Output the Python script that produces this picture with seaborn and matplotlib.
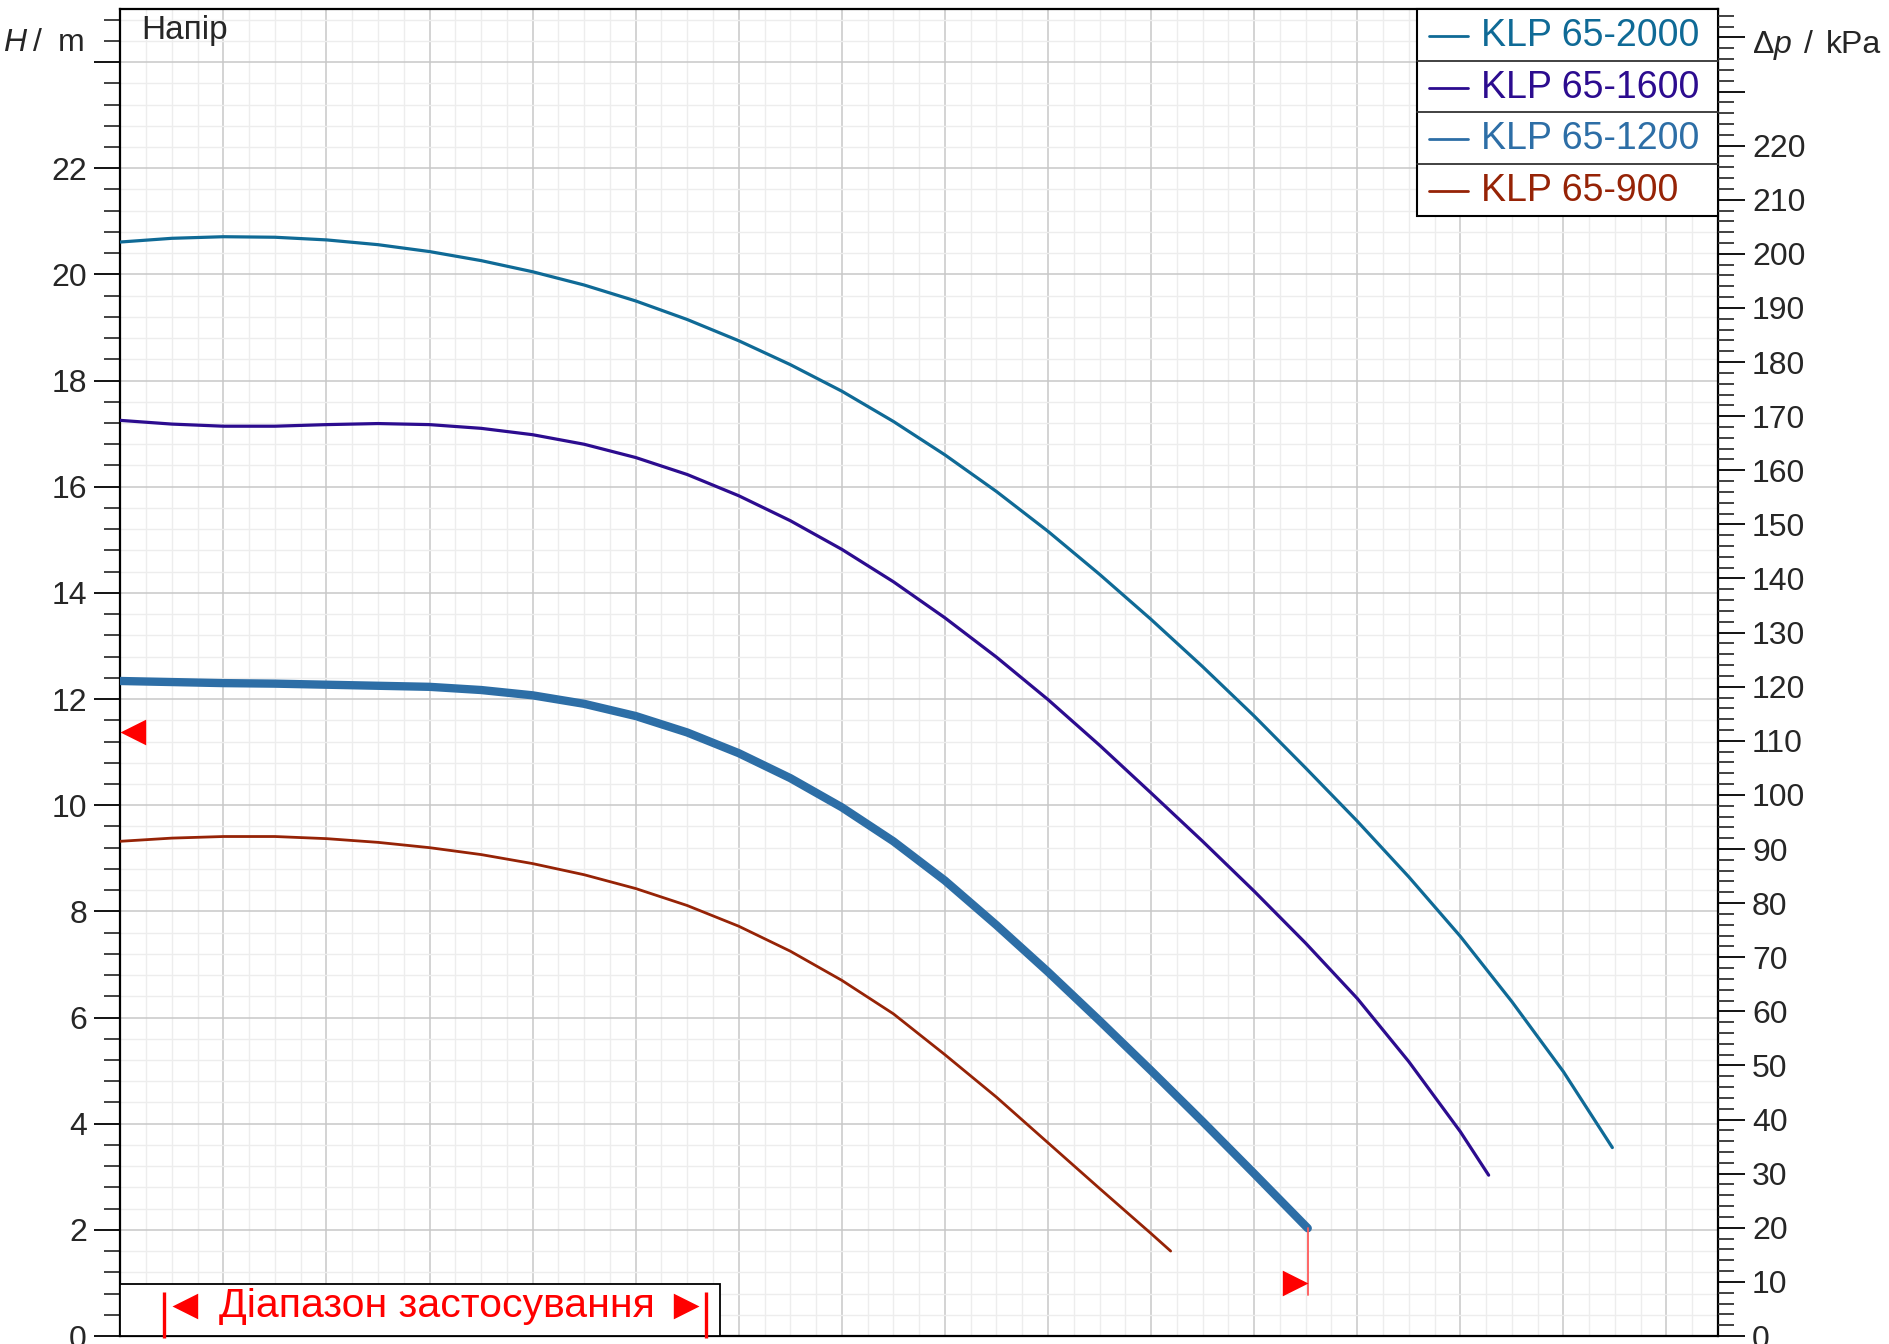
import numpy as np
import pandas as pd
import matplotlib
matplotlib.use("Agg")
import matplotlib.pyplot as plt
from matplotlib.path import Path
from matplotlib.ticker import MultipleLocator, FixedLocator
import seaborn as sns

# ---------------- data (flow in grid units, head in m) ----------------
series_names = ["KLP 65-2000", "KLP 65-1600", "KLP 65-1200", "KLP 65-900"]
series_colors = ["#0f6a96", "#2c0c8f", "#2d6ea6", "#962306"]
series_widths = [2.3, 2.3, 6.0, 2.0]

q_2000 = [0, 1, 2, 3, 4, 5, 6, 7, 8, 9, 10, 11, 12, 13, 14, 15, 16, 17, 18, 19, 20, 21, 22, 23, 24, 25, 26, 27, 28, 28.95]
h_2000 = [20.61, 20.68, 20.71, 20.70, 20.65, 20.56, 20.43, 20.26, 20.05, 19.80, 19.50, 19.15, 18.75, 18.30, 17.80,
          17.23, 16.60, 15.91, 15.16, 14.35, 13.50, 12.61, 11.68, 10.70, 9.70, 8.65, 7.53, 6.30, 4.98, 3.55]

q_1600 = [0, 1, 2, 3, 4, 5, 6, 7, 8, 9, 10, 11, 12, 13, 14, 15, 16, 17, 18, 19, 20, 21, 22, 23, 24, 25, 26, 26.55]
h_1600 = [17.25, 17.18, 17.14, 17.14, 17.17, 17.19, 17.17, 17.10, 16.98, 16.80, 16.55, 16.23, 15.83, 15.36, 14.82,
          14.21, 13.53, 12.79, 11.99, 11.13, 10.23, 9.32, 8.38, 7.40, 6.36, 5.17, 3.85, 3.03]

q_1200 = [0, 1, 2, 3, 4, 5, 6, 7, 8, 9, 10, 11, 12, 13, 14, 15, 16, 17, 18, 19, 20, 21, 22, 23.04]
h_1200 = [12.34, 12.32, 12.30, 12.29, 12.27, 12.25, 12.23, 12.17, 12.07, 11.91, 11.68, 11.37, 10.98, 10.51, 9.96,
          9.32, 8.58, 7.74, 6.86, 5.94, 5.00, 4.04, 3.06, 2.03]

q_900 = [0, 1, 2, 3, 4, 5, 6, 7, 8, 9, 10, 11, 12, 13, 14, 15, 16, 17, 18, 19, 20, 20.38]
h_900 = [9.32, 9.38, 9.41, 9.41, 9.37, 9.30, 9.20, 9.07, 8.90, 8.69, 8.43, 8.11, 7.72, 7.25, 6.70, 6.07, 5.30,
         4.50, 3.64, 2.78, 1.93, 1.60]

series_q = [q_2000, q_1600, q_1200, q_900]
series_h = [h_2000, h_1600, h_1200, h_900]

# application range markers (flow, head)
range_start = (0.0, 11.38)
range_end = (23.04, 1.0)
range_end_curve_h = 2.03
range_line_bottom_h = 0.77

h_ticks = [0, 2, 4, 6, 8, 10, 12, 14, 16, 18, 20, 22, 24]
h_labels = ["0", "2", "4", "6", "8", "10", "12", "14", "16", "18", "20", "22", ""]
p_ticks = list(range(0, 250, 10))
p_labels = [str(v) if v <= 220 else "" for v in p_ticks]
RHO_G = 9.81  # kPa per m

# ---------------- style ----------------
sns.set_style("white")
plt.rcParams["font.family"] = ["Liberation Sans", "DejaVu Sans"]

W, Hpx = 1889, 1344
fig = plt.figure(figsize=(W / 100, Hpx / 100), dpi=100)
ax_l, ax_r, ax_t, ax_b = 120.3, 1718.0, 9.0, 1336.0
ax = fig.add_axes([ax_l / W, 1 - ax_b / Hpx, (ax_r - ax_l) / W, (ax_b - ax_t) / Hpx])

XMAX, YMAX = 31.0, 25.0
ax.set_xlim(0, XMAX)
ax.set_ylim(0, YMAX)

ax.xaxis.set_major_locator(MultipleLocator(2))
ax.xaxis.set_minor_locator(MultipleLocator(0.5))
ax.yaxis.set_major_locator(FixedLocator(h_ticks))
ax.set_yticklabels(h_labels)
ax.yaxis.set_minor_locator(MultipleLocator(0.4))

ax.set_axisbelow(True)
ax.grid(which="major", color="#c8c8c8", linewidth=1.1)
ax.grid(which="minor", color="#ededed", linewidth=1.0)

for s in ax.spines.values():
    s.set_color("black")
    s.set_linewidth(1.6)

ax.tick_params(axis="y", which="major", direction="out", length=19, width=1.3, labelsize=23, pad=5, color="black")
ax.tick_params(axis="y", which="minor", direction="out", length=11.5, width=1.3, color="#333333")
ax.tick_params(axis="x", which="both", direction="out", length=6, width=1.0, labelbottom=False, color="#555555")

# ---------------- curves ----------------
for name, q, h, c, lw in zip(series_names, series_q, series_h, series_colors, series_widths):
    df = pd.DataFrame({"Q": q, "H": h})
    sns.lineplot(data=df, x="Q", y="H", ax=ax, color=c, linewidth=lw, sort=False,
                 estimator=None, legend=False, solid_capstyle="round", solid_joinstyle="round", zorder=3)
ax.set_xlabel("")
ax.set_ylabel("")

# application range markers
codes = [Path.MOVETO, Path.LINETO, Path.LINETO, Path.CLOSEPOLY]
tri_left = Path([(0, 0), (1, 0.5), (1, -0.5), (0, 0)], codes)
tri_right = Path([(0, 0), (-1, 0.5), (-1, -0.5), (0, 0)], codes)
ax.plot([range_start[0]], [range_start[1]], marker=tri_left, ms=37, color="#ff0000", mew=0, zorder=5, clip_on=False)
ax.plot([range_end[0]], [range_end[1]], marker=tri_right, ms=37, color="#ff0000", mew=0, zorder=5, clip_on=False)
ax.plot([range_end[0], range_end[0]], [range_end_curve_h, range_line_bottom_h], color="#ff5a5a", lw=1.3, zorder=4)

# ---------------- right axis ----------------
ax2 = ax.twinx()
ax2.set_ylim(0, YMAX * RHO_G)
ax2.yaxis.set_major_locator(FixedLocator(p_ticks))
ax2.set_yticklabels(p_labels)
ax2.yaxis.set_minor_locator(MultipleLocator(2))
ax2.tick_params(axis="y", which="major", direction="out", length=19.5, width=1.3, labelsize=23, pad=5, color="black")
ax2.tick_params(axis="y", which="minor", direction="out", length=11.5, width=1.3, color="#333333")
ax2.grid(False)
for s in ax2.spines.values():
    s.set_visible(False)

# ---------------- texts ----------------
def fx(px):
    return px / W

def fy(py):
    return 1 - py / Hpx

fs = 23
fig.text(fx(3), fy(43), "H", style="italic", fontsize=fs, va="center", ha="left")
fig.text(fx(33), fy(43), "/", fontsize=fs, va="center", ha="left")
fig.text(fx(58), fy(43), "m", fontsize=fs, va="center", ha="left")

fig.text(fx(1753), fy(45), "Δ", fontsize=fs, va="center", ha="left")
fig.text(fx(1774), fy(45), "p", style="italic", fontsize=fs, va="center", ha="left")
fig.text(fx(1804), fy(45), "/", fontsize=fs, va="center", ha="left")
fig.text(fx(1826), fy(45), "kPa", fontsize=fs, va="center", ha="left")

def axx(px):
    return (px - ax_l) / (ax_r - ax_l)

def axy(py):
    return (ax_b - py) / (ax_b - ax_t)

ax.text(axx(141), axy(30), "Напір", fontsize=24, va="center", ha="left", transform=ax.transAxes, zorder=6)

# legend drawn as a stacked table
leg_left, leg_top, row_h = 1417, 9, 51.7
n = len(series_names)
ax.add_patch(plt.Rectangle((axx(leg_left), axy(leg_top + n * row_h)), 1 - axx(leg_left),
                           axy(leg_top) - axy(leg_top + n * row_h), transform=ax.transAxes,
                           facecolor="white", edgecolor="black", lw=1.5, zorder=7, clip_on=False))
for i, (name, c) in enumerate(zip(series_names, series_colors)):
    y_top = leg_top + i * row_h
    yc = y_top + row_h / 2 + 1
    if i > 0:
        ax.plot([axx(leg_left), 1], [axy(y_top), axy(y_top)], transform=ax.transAxes, color="#333333",
                lw=1.3, zorder=8, clip_on=False)
    ax.plot([axx(1429), axx(1468)], [axy(yc), axy(yc)], transform=ax.transAxes, color=c, lw=2.0,
            zorder=8, clip_on=False)
    ax.text(axx(1481), axy(yc), name, color=c, fontsize=27, va="center", ha="left",
            transform=ax.transAxes, zorder=8)

# application range box
ax.add_patch(plt.Rectangle((0, 0), axx(720), axy(1284), transform=ax.transAxes,
                           facecolor="white", edgecolor="black", lw=1.3, zorder=7))
ax.text(axx(437), axy(1306), "Діапазон застосування", color="#ff0000", fontsize=29.5,
        va="center", ha="center", transform=ax.transAxes, zorder=8)
ax.plot([axx(172)], [axy(1306)], marker=tri_left, ms=37, color="#ff0000", mew=0, transform=ax.transAxes,
        zorder=8, clip_on=False)
ax.plot([axx(699)], [axy(1306)], marker=tri_right, ms=37, color="#ff0000", mew=0, transform=ax.transAxes,
        zorder=8, clip_on=False)
for bx in (164, 706):
    ax.plot([axx(bx), axx(bx)], [axy(1292), axy(1338)], color="#ff0000", lw=2.4, transform=ax.transAxes,
            zorder=8, clip_on=False, solid_capstyle="butt")

fig.savefig("out.png", dpi=100)
